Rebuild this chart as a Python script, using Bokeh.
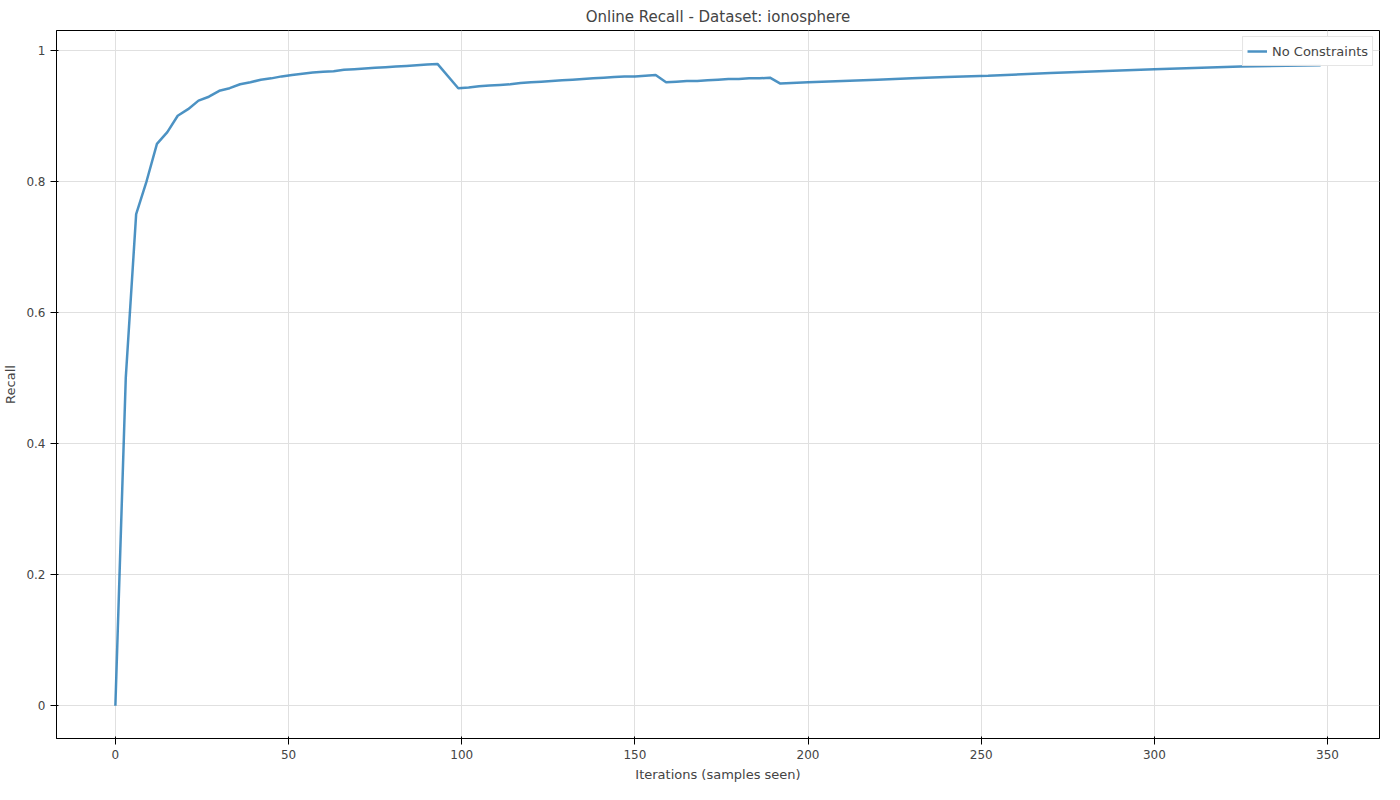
from bokeh.plotting import figure
from bokeh.models import Range1d, FixedTicker
from bokeh.embed import file_html
from bokeh.resources import INLINE

iterations = [0, 3, 6, 9, 12, 15, 18, 21, 24, 27, 30, 33, 36, 39, 42, 45, 48, 51, 54, 57,
              60, 63, 66, 69, 72, 75, 78, 81, 84, 87, 90, 93,
              99, 102, 105, 108, 111, 114, 117, 120, 123, 126, 129, 132, 135, 138, 141, 144,
              147, 150, 153, 156, 159, 162, 165, 168, 171, 174, 177, 180, 183, 186, 189,
              192, 200, 210, 220, 230, 240, 252, 270, 300, 325, 348]
recall = [0.0, 0.50, 0.75, 0.80, 0.857, 0.875, 0.90, 0.91, 0.923, 0.929, 0.938, 0.942, 0.948,
          0.951, 0.955, 0.957, 0.960, 0.962, 0.964, 0.966,
          0.967, 0.968, 0.970, 0.971, 0.972, 0.973, 0.974, 0.975, 0.976, 0.977, 0.978, 0.979,
          0.942, 0.943, 0.945, 0.946, 0.947, 0.948, 0.950, 0.951, 0.952, 0.953, 0.954, 0.955,
          0.956, 0.957, 0.958, 0.959, 0.960, 0.960, 0.961, 0.962, 0.951, 0.952, 0.953, 0.953,
          0.954, 0.955, 0.956, 0.956, 0.957, 0.957, 0.958,
          0.949, 0.951, 0.953, 0.955, 0.957, 0.959, 0.961, 0.965, 0.971, 0.975, 0.977]

p = figure(width=1384, height=784, output_backend="svg", toolbar_location=None,
           title="Online Recall - Dataset: ionosphere",
           x_axis_label="Iterations (samples seen)", y_axis_label="Recall",
           x_range=Range1d(-17, 365), y_range=Range1d(-0.05, 1.03))
p.title.align = "center"
p.title.text_font = "DejaVu Sans"
p.title.text_font_size = "15px"
p.title.text_font_style = "normal"
p.xaxis.ticker = FixedTicker(ticks=[0, 50, 100, 150, 200, 250, 300, 350])
p.yaxis.ticker = FixedTicker(ticks=[0.0, 0.2, 0.4, 0.6, 0.8, 1.0])
p.yaxis.formatter.use_scientific = False
for ax in (p.xaxis, p.yaxis):
    ax.axis_label_text_font = "DejaVu Sans"
    ax.axis_label_text_font_style = "normal"
    ax.axis_label_text_font_size = "13px"
    ax.major_label_text_font = "DejaVu Sans"
    ax.major_label_text_font_size = "12px"
    ax.minor_tick_line_color = None
p.grid.grid_line_color = "#e0e0e0"
p.outline_line_color = "black"

p.line(iterations, recall, line_width=2.5, color="#1f77b4", alpha=0.8, legend_label="No Constraints")
p.legend.location = "top_right"
p.legend.label_text_font = "DejaVu Sans"
p.legend.label_text_font_size = "13px"
p.legend.border_line_color = "#cccccc"
p.legend.padding = 4
p.legend.spacing = 0
p.legend.margin = 6

open("out.html", "w").write(file_html(p, INLINE))
